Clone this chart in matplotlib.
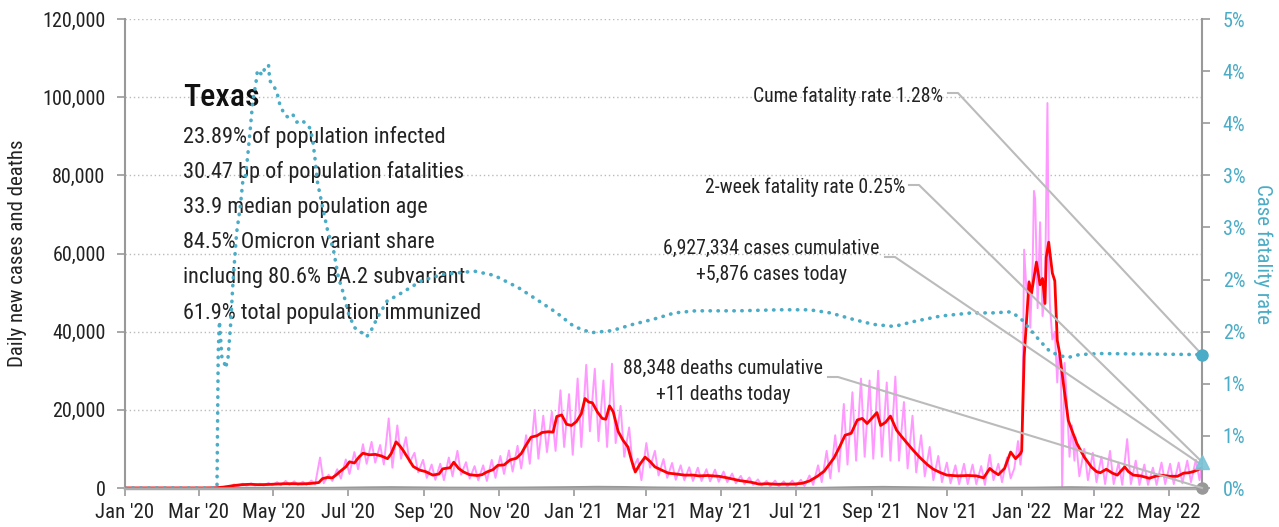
import os
import numpy as np
import pandas as pd
import matplotlib
matplotlib.use("Agg")
import matplotlib.pyplot as plt
import matplotlib.dates as mdates
import matplotlib.font_manager as fm

# ---------------- data ----------------
avg_dates = ["2020-01-01", "2020-03-05", "2020-03-15", "2020-03-22", "2020-03-29", "2020-04-05", "2020-04-12",
             "2020-04-19", "2020-04-26", "2020-05-03", "2020-05-10", "2020-05-17", "2020-05-24", "2020-05-31",
             "2020-06-07", "2020-06-10", "2020-06-14", "2020-06-18", "2020-06-21", "2020-06-25", "2020-06-29",
             "2020-07-02", "2020-07-06", "2020-07-10", "2020-07-13", "2020-07-18", "2020-07-23", "2020-07-28",
             "2020-08-02", "2020-08-05", "2020-08-09", "2020-08-12", "2020-08-15", "2020-08-19", "2020-08-23",
             "2020-08-28", "2020-09-02", "2020-09-08", "2020-09-13", "2020-09-16", "2020-09-22", "2020-09-25",
             "2020-09-29", "2020-10-03", "2020-10-08", "2020-10-14", "2020-10-18", "2020-10-22", "2020-10-27",
             "2020-10-31", "2020-11-05", "2020-11-10", "2020-11-15", "2020-11-19", "2020-11-23", "2020-11-27",
             "2020-12-02", "2020-12-06", "2020-12-11", "2020-12-15", "2020-12-18", "2020-12-22", "2020-12-26",
             "2020-12-30", "2021-01-03", "2021-01-07", "2021-01-10", "2021-01-13", "2021-01-16", "2021-01-20",
             "2021-01-24", "2021-01-27", "2021-01-30", "2021-02-02", "2021-02-06", "2021-02-10", "2021-02-14",
             "2021-02-17", "2021-02-20", "2021-02-24", "2021-02-28", "2021-03-04", "2021-03-08", "2021-03-14",
             "2021-03-19", "2021-03-25", "2021-04-01", "2021-04-08", "2021-04-13", "2021-04-20", "2021-04-29",
             "2021-05-06", "2021-05-16", "2021-05-25", "2021-06-01", "2021-06-08", "2021-06-15", "2021-06-22",
             "2021-06-29", "2021-07-06", "2021-07-12", "2021-07-18", "2021-07-24", "2021-08-01", "2021-08-06",
             "2021-08-10", "2021-08-15", "2021-08-20", "2021-08-24", "2021-08-28", "2021-09-01", "2021-09-05",
             "2021-09-08", "2021-09-12", "2021-09-16", "2021-09-21", "2021-09-25", "2021-09-29", "2021-10-05",
             "2021-10-10", "2021-10-16", "2021-10-21", "2021-10-27", "2021-11-01", "2021-11-10", "2021-11-18",
             "2021-11-25", "2021-12-01", "2021-12-06", "2021-12-09", "2021-12-13", "2021-12-18", "2021-12-23",
             "2021-12-27", "2021-12-31", "2022-01-01", "2022-01-03", "2022-01-07", "2022-01-09", "2022-01-13",
             "2022-01-16", "2022-01-18", "2022-01-20", "2022-01-21", "2022-01-23", "2022-01-26", "2022-01-28",
             "2022-01-30", "2022-02-01", "2022-02-04", "2022-02-08", "2022-02-11", "2022-02-15", "2022-02-21",
             "2022-02-27", "2022-03-03", "2022-03-06", "2022-03-11", "2022-03-16", "2022-03-20", "2022-03-26",
             "2022-03-29", "2022-04-02", "2022-04-08", "2022-04-15", "2022-04-20", "2022-04-24", "2022-05-02",
             "2022-05-08", "2022-05-13", "2022-05-17", "2022-05-21", "2022-05-28"]
avg_cases = [0, 0, 50, 250, 600, 850, 950,
             850, 900, 1000, 1100, 1100, 1050, 1150,
             1400, 2400, 2700, 2600, 3300, 4400, 5400,
             6700, 6400, 8000, 8900, 8500, 8600, 8200,
             7500, 8800, 11800, 10800, 9500, 7500, 5500,
             4600, 4200, 3300, 3600, 4900, 5200, 6600,
             5000, 4100, 3400, 3200, 3400, 4100, 4700,
             5800, 5900, 7200, 7600, 8800, 11000, 13000,
             13400, 14200, 14400, 14300, 18300, 18700, 16300,
             16000, 17000, 19000, 22900, 22000, 21800, 19500,
             17800, 17600, 21000, 19500, 14500, 12200, 10500,
             7000, 4100, 6200, 7900, 6800, 5400, 4500,
             3800, 3600, 3300, 3300, 3100, 3200, 3000,
             2600, 1900, 1500, 1000, 1100, 950, 1000,
             1000, 1200, 1800, 2900, 4300, 7700, 10800,
             13500, 14000, 17400, 17800, 16500, 17900, 19300,
             16000, 16800, 18400, 14800, 13200, 11700, 9500,
             7800, 6000, 4800, 3900, 3300, 3100, 3200,
             3100, 2600, 5000, 4200, 3400, 5000, 9200,
             7500, 8800, 9500, 33500, 52700, 49800, 57800,
             52000, 53600, 47200, 59000, 62900, 55000, 53000,
             37800, 34400, 26700, 17300, 14700, 11400, 7900,
             5300, 4200, 3900, 4800, 3800, 3300, 5400,
             4200, 3300, 3100, 2500, 3000, 3300, 3000,
             3000, 3800, 3900, 4200, 5100]

# daily new cases: weekly high / low readings (weeks starting 2020-02-29)
daily_week_start_a = "2020-02-29"
daily_hi_a = [0, 0, 60, 400, 900, 1100, 1200, 1100, 1300, 1500, 1800, 1700, 1600, 1900,
              7800, 3400, 4800, 7300, 9200, 11200, 11800, 11000, 17800, 16000, 13000, 9000,
              7200, 6000, 6200, 7800, 9500, 6600, 5600, 5800, 7200, 8200, 9600, 10800, 13500,
              20000, 18500, 19500, 25000, 24000, 28000, 31500, 30500, 27500, 31800, 21000,
              15500, 7500, 11500, 9500, 7400, 6400, 5800, 5300, 5200, 4800, 4700, 4200, 3700,
              3100, 2700, 2200, 1800, 1900, 1700, 1900, 2100, 3200, 5800, 9500, 13500, 21500,
              24500, 28000, 27500, 30000, 27000, 28500, 22000, 18500, 13500, 10500, 8200, 6500,
              5800, 6200, 6000, 5600, 8500, 6200, 7800]
daily_lo_a = [0, 0, 30, 150, 400, 600, 600, 600, 700, 700, 800, 800, 800, 900,
              1200, 1800, 2400, 3600, 4800, 6200, 6500, 6000, 5200, 7500, 6500, 4000,
              2600, 2100, 2000, 3000, 3400, 2400, 2000, 1800, 2600, 3600, 4200, 5000, 6200,
              7500, 9200, 9500, 10500, 8500, 10500, 14500, 12000, 10500, 11500, 8000,
              5000, 2000, 5200, 3200, 2600, 2100, 2000, 1800, 1800, 1700, 1600, 1500, 1200,
              1000, 800, 600, 400, 400, 400, 500, 500, 800, 1500, 2500, 4200, 6000,
              7000, 8000, 7500, 8000, 7000, 7000, 5000, 4000, 3000, 2000, 1500, 1200,
              1000, 1000, 1000, 800, 2000, 1500, 2500]
surge_dates = ["2021-12-26", "2021-12-29", "2021-12-31", "2022-01-01", "2022-01-02", "2022-01-03",
               "2022-01-05", "2022-01-07", "2022-01-08", "2022-01-10", "2022-01-11", "2022-01-12",
               "2022-01-14", "2022-01-16", "2022-01-18", "2022-01-20", "2022-01-22", "2022-01-23",
               "2022-01-24", "2022-01-26", "2022-01-28", "2022-01-30", "2022-01-31", "2022-02-02",
               "2022-02-03", "2022-02-05", "2022-02-07", "2022-02-09", "2022-02-11", "2022-02-13"]
surge_cases = [5000, 12000, 6000, 9000, 30000, 61000,
               50000, 53000, 41000, 58000, 76000, 74000,
               46000, 68000, 44000, 50000, 98500, 60000,
               47000, 38000, 40000, 27000, 34000, 30000,
               0, 32000, 21000, 8000, 16000, 7000]
daily_week_start_b = "2022-02-12"
daily_hi_b = [13000, 10000, 9000, 8000, 9500, 6500, 12500, 7000, 6000, 5200, 6500, 6200, 6500, 7000, 7200]
daily_lo_b = [3000, 2000, 1500, 1000, 1000, 800, 1000, 800, 800, 800, 1000, 1000, 1200, 1500, 2000]
last_date = "2022-05-28"
cases_today = 5876

death_dates = ["2020-01-01", "2020-03-20", "2020-04-15", "2020-05-15", "2020-06-15", "2020-07-20",
               "2020-08-05", "2020-08-25", "2020-09-20", "2020-10-20", "2020-11-20", "2020-12-20",
               "2021-01-20", "2021-02-10", "2021-03-10", "2021-04-10", "2021-05-10", "2021-06-20",
               "2021-07-20", "2021-08-20", "2021-09-10", "2021-10-10", "2021-11-10", "2021-12-10",
               "2022-01-10", "2022-02-10", "2022-03-10", "2022-04-10", "2022-05-28"]
death_avg = [0, 0, 40, 30, 30, 200, 250, 180, 100, 80, 130, 230, 350, 300, 150, 60, 40, 25,
             40, 250, 330, 200, 60, 60, 100, 250, 100, 30, 11]

cfr_dates = ["2020-01-01", "2020-03-16", "2020-03-17", "2020-03-18", "2020-03-20", "2020-03-22",
             "2020-03-23", "2020-03-25", "2020-03-27", "2020-03-29", "2020-04-01", "2020-04-04",
             "2020-04-06", "2020-04-08", "2020-04-10", "2020-04-12", "2020-04-14", "2020-04-17",
             "2020-04-18", "2020-04-22", "2020-04-24", "2020-04-27", "2020-04-28", "2020-05-02",
             "2020-05-04", "2020-05-06", "2020-05-10", "2020-05-14", "2020-05-17", "2020-05-20",
             "2020-05-24", "2020-05-27", "2020-05-31", "2020-06-02", "2020-06-04", "2020-06-06",
             "2020-06-10", "2020-06-14", "2020-06-19", "2020-06-23", "2020-06-27", "2020-07-01",
             "2020-07-06", "2020-07-12", "2020-07-16", "2020-07-20", "2020-07-25", "2020-08-02",
             "2020-08-09", "2020-08-30", "2020-09-16", "2020-10-12", "2020-10-28", "2020-11-17",
             "2020-12-04", "2020-12-18", "2021-01-01", "2021-01-15", "2021-02-01", "2021-02-18",
             "2021-03-07", "2021-03-24", "2021-04-10", "2021-05-15", "2021-06-18", "2021-07-12",
             "2021-07-29", "2021-08-16", "2021-09-02", "2021-09-19", "2021-10-06", "2021-10-27",
             "2021-11-21", "2021-12-08", "2021-12-23", "2021-12-31", "2022-01-08", "2022-01-16",
             "2022-01-24", "2022-01-30", "2022-02-07", "2022-02-17", "2022-03-06", "2022-05-28"]
cfr_pct = [0, 0, 1.30, 1.60, 1.25, 1.20,
           1.15, 1.25, 1.55, 1.97, 2.45, 2.70,
           2.94, 2.97, 3.18, 3.43, 3.69, 3.91,
           4.01, 3.96, 4.03, 4.06, 3.91, 3.84,
           3.79, 3.69, 3.58, 3.55, 3.58, 3.51,
           3.53, 3.50, 3.45, 3.34, 3.15, 2.93,
           2.70, 2.48, 2.28, 2.02, 1.87, 1.68,
           1.54, 1.49, 1.45, 1.52, 1.64, 1.80,
           1.84, 1.99, 2.05, 2.08, 2.04, 1.92,
           1.79, 1.68, 1.55, 1.49, 1.51, 1.57,
           1.62, 1.68, 1.70, 1.70, 1.71, 1.71,
           1.68, 1.62, 1.57, 1.55, 1.60, 1.65,
           1.68, 1.68, 1.69, 1.63, 1.52, 1.41,
           1.31, 1.28, 1.25, 1.28, 1.29, 1.28]

cume_cfr = 1.28
two_week_cfr = 0.25
deaths_today = 11

left_ticks = [0, 20000, 40000, 60000, 80000, 100000, 120000]
right_ticks = [0, 0.5, 1, 1.5, 2, 2.5, 3, 3.5, 4, 4.5]
right_tick_labels = ["0%", "1%", "1%", "2%", "2%", "3%", "3%", "4%", "4%", "5%"]

title = "Texas"
info_lines = ["23.89% of population infected",
              "30.47 bp of population fatalities",
              "33.9 median population age",
              "84.5% Omicron variant share",
              "including 80.6% BA.2 subvariant",
              "61.9% total population immunized"]
ann_cume = "Cume fatality rate 1.28%"
ann_2wk = "2-week fatality rate 0.25%"
ann_cases = ["6,927,334 cases cumulative", "+5,876 cases today"]
ann_deaths = ["88,348 deaths cumulative", "+11 deaths today"]

# ---------------- fonts ----------------
files = [f.fname for f in fm.fontManager.ttflist]


def find_font(prefs):
    for p in prefs:
        for f in files:
            b = os.path.basename(f).lower().replace(" ", "")
            if b.startswith(p):
                return f
    return None


reg = find_font(["robotocondensed-regular", "robotocondensed", "liberationsansnarrow-regular",
                 "liberationsansnarrow", "dejavusanscondensed.ttf"])
med = find_font(["robotocondensed-medium"]) or reg
FP = fm.FontProperties(fname=reg) if reg else fm.FontProperties(family="DejaVu Sans")
FPM = fm.FontProperties(fname=med) if med else FP


def fp(size, base=None):
    p = (base or FP).copy()
    p.set_size(size)
    return p


BLUE = "#4aacc6"
PINK = "#ff99ff"
RED = "#ff0000"
TXT = "#222222"

# ---------------- figure ----------------
W, H = 1279, 527
fig = plt.figure(figsize=(W / 100, H / 100), dpi=100)
L, R, T, B = 125, 1202, 19, 488
fig.subplots_adjust(left=L / W, right=R / W, top=1 - T / H, bottom=1 - B / H)
ax = fig.add_subplot(111)
ax2 = ax.twinx()


def fx(px):
    return (px - L) / (R - L)


def fy(py):
    return (B - py) / (B - T)


# pink daily series
wa = pd.date_range(daily_week_start_a, periods=len(daily_hi_a), freq="7D")
wb = pd.date_range(daily_week_start_b, periods=len(daily_hi_b), freq="7D")
pts = [(pd.Timestamp("2020-01-01"), 0)]
for d, h, l in zip(wa, daily_hi_a, daily_lo_a):
    pts.append((d + pd.Timedelta(days=2), h))
    pts.append((d + pd.Timedelta(days=5), l))
for d, v in zip(pd.to_datetime(surge_dates), surge_cases):
    pts.append((d, v))
for d, h, l in zip(wb, daily_hi_b, daily_lo_b):
    pts.append((d + pd.Timedelta(days=2), h))
    pts.append((d + pd.Timedelta(days=5), l))
pts.append((pd.Timestamp(last_date), cases_today))
pts.sort(key=lambda t: t[0])
pd_x = [p[0] for p in pts]
pd_y = [p[1] for p in pts]

ax.plot(pd_x, pd_y, color=PINK, lw=1.4, zorder=2)
ax.plot(pd.to_datetime(avg_dates), avg_cases, color=RED, lw=2.0, zorder=3)
ax.plot(pd.to_datetime(death_dates), death_avg, color="#999999", lw=1.2, zorder=3)

ax2.plot(pd.to_datetime(cfr_dates), cfr_pct, color=BLUE, lw=2.6,
         linestyle=(0, (0.1, 2.1)), dash_capstyle="round", zorder=4)

end = pd.Timestamp(last_date)
ax2.plot([end], [cume_cfr], "o", color=BLUE, ms=8, zorder=6, clip_on=False)
ax2.plot([end], [two_week_cfr], "^", color="#7ac4d8", ms=10, zorder=6, clip_on=False, alpha=0.9)
ax.plot([end], [deaths_today], "o", color="#999999", ms=8, zorder=6, clip_on=False)

# axes limits/ticks
ax.set_xlim(pd.Timestamp("2020-01-01"), end)
ax.set_ylim(0, 120000)
ax2.set_ylim(0, 4.5)
ax.set_yticks(left_ticks)
ax.set_yticklabels([f"{v:,}" for v in left_ticks])
ax2.set_yticks(right_ticks)
ax2.set_yticklabels(right_tick_labels)
ax.xaxis.set_major_locator(mdates.MonthLocator(bymonth=[1, 3, 5, 7, 9, 11]))
ax.xaxis.set_major_formatter(mdates.DateFormatter("%b '%y"))

ax.grid(axis="y", color="#bbbbbb", linestyle=(0, (1, 2)), lw=1.0)
ax.set_axisbelow(True)

for a in (ax, ax2):
    a.spines["top"].set_visible(False)
ax.spines["left"].set_color("#999999")
ax.spines["left"].set_linewidth(1.5)
ax.spines["bottom"].set_color("#aaaaaa")
ax.spines["bottom"].set_linewidth(2.5)
ax.spines["right"].set_visible(False)
ax2.spines["left"].set_visible(False)
ax2.spines["bottom"].set_visible(False)
ax2.spines["right"].set_color("#999999")
ax2.spines["right"].set_linewidth(1.5)

ax.tick_params(axis="y", length=6, width=1.2, color="#999999", pad=8, labelcolor=TXT)
ax.tick_params(axis="x", length=6, width=1.2, color="#999999", pad=5, labelcolor=TXT)
ax2.tick_params(axis="y", length=6, width=1.2, color="#999999", pad=9, labelcolor=BLUE)
for lab in ax.get_yticklabels():
    lab.set_fontproperties(fp(14.5))
for lab in ax.get_xticklabels():
    lab.set_fontproperties(fp(15))
for lab in ax2.get_yticklabels():
    lab.set_fontproperties(fp(14.5))

ax.text(fx(18), 0.5, "Daily new cases and deaths", transform=ax.transAxes, rotation=90,
        ha="center", va="center", fontproperties=fp(15), color=TXT)
ax2.text(fx(1263), 0.5, "Case fatality rate", transform=ax.transAxes, rotation=-90,
         ha="center", va="center", fontproperties=fp(15), color=BLUE)

# info block
ax.text(fx(183), fy(106.5), title, transform=ax.transAxes, ha="left", va="baseline",
        fontproperties=fp(23, FPM), color="#111111", zorder=7)
for line, by in zip(info_lines, [142.5, 178, 213.5, 248.5, 283.5, 318.5]):
    ax.text(fx(183), fy(by), line, transform=ax.transAxes, ha="left", va="baseline",
            fontproperties=fp(16), color=TXT, zorder=7)

# annotations
fig.canvas.draw()


def data_to_axfrac(a, x, y):
    disp = a.transData.transform((mdates.date2num(x), y))
    return ax.transAxes.inverted().transform(disp)


def connector(px0, py, target):
    x0, y0 = fx(px0), fy(py)
    x1 = fx(px0 + 10)
    tx, ty = target
    ax2.plot([x0, x1, tx], [y0, y0, ty], transform=ax.transAxes, color="#bbbbbb", lw=1.5,
             zorder=5, clip_on=False)


AS = 14.2
ax2.text(fx(943), fy(101.5), ann_cume, transform=ax.transAxes, ha="right", va="baseline",
         fontproperties=fp(AS), color=TXT)
connector(948, 93, data_to_axfrac(ax2, end, cume_cfr))

ax2.text(fx(905), fy(193), ann_2wk, transform=ax.transAxes, ha="right", va="baseline",
         fontproperties=fp(AS), color=TXT)
connector(909, 185, data_to_axfrac(ax2, end, two_week_cfr))

ax2.text(fx(771), fy(254), ann_cases[0], transform=ax.transAxes, ha="center", va="baseline",
         fontproperties=fp(AS), color=TXT)
ax2.text(fx(771), fy(280), ann_cases[1], transform=ax.transAxes, ha="center", va="baseline",
         fontproperties=fp(AS), color=TXT)
connector(885, 257, data_to_axfrac(ax, end, cases_today))

ax2.text(fx(723), fy(374), ann_deaths[0], transform=ax.transAxes, ha="center", va="baseline",
         fontproperties=fp(AS), color=TXT)
ax2.text(fx(723), fy(400), ann_deaths[1], transform=ax.transAxes, ha="center", va="baseline",
         fontproperties=fp(AS), color=TXT)
connector(828, 377, data_to_axfrac(ax, end, deaths_today))

fig.savefig("out.png", dpi=100)
